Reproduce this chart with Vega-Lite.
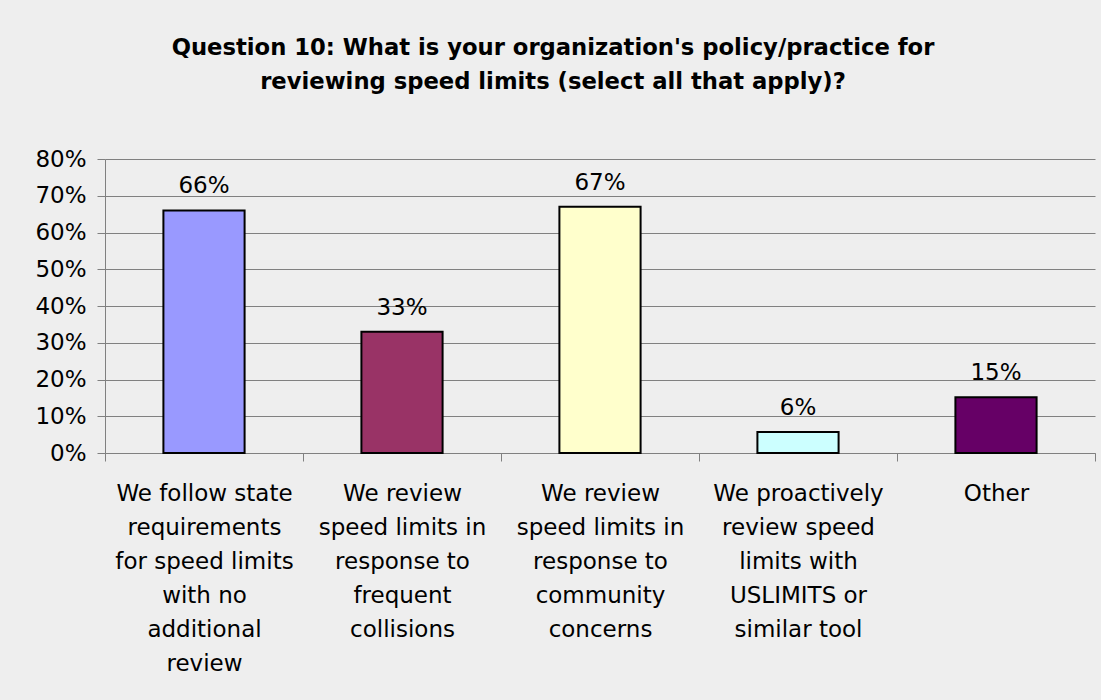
{
  "$schema": "https://vega.github.io/schema/vega-lite/v6.json",
  "width": 990,
  "height": 294,
  "autosize": "none",
  "padding": {"left": 105, "top": 159, "right": 6, "bottom": 247},
  "background": "#eeeeee",
  "title": {
    "text": ["Question 10: What is your organization's policy/practice for", "reviewing speed limits (select all that apply)?"],
    "font": "DejaVu Sans",
    "fontSize": 22.7,
    "fontWeight": "bold",
    "lineHeight": 34,
    "color": "#000000",
    "anchor": "middle",
    "frame": "group",
    "dx": -47,
    "offset": 54
  },
  "config": {
    "view": {"stroke": null},
    "axis": {"labelFont": "DejaVu Sans", "labelFontSize": 23, "labelColor": "#000000"}
  },
  "data": {
    "values": [
      {"order": 1, "category": "We follow state|requirements|for speed limits|with no|additional|review", "value": 0.66},
      {"order": 2, "category": "We review|speed limits in|response to|frequent|collisions", "value": 0.33},
      {"order": 3, "category": "We review |speed limits in |response to |community|concerns", "value": 0.67},
      {"order": 4, "category": "We proactively|review speed|limits with|USLIMITS or|similar tool", "value": 0.057},
      {"order": 5, "category": "Other", "value": 0.152}
    ]
  },
  "encoding": {
    "x": {
      "field": "category",
      "type": "nominal",
      "sort": {"field": "order"},
      "scale": {"paddingInner": 0, "paddingOuter": 0},
      "axis": {
        "title": null,
        "labelAngle": 0,
        "labelExpr": "split(datum.label, '|')",
        "labelLineHeight": 34,
        "labelPadding": 21,
        "labelBaseline": "top",
        "tickBand": "extent",
        "tickSize": 8,
        "tickColor": "#808080",
        "domainColor": "#808080",
        "labelLimit": 0
      }
    },
    "y": {
      "field": "value",
      "type": "quantitative",
      "scale": {"domain": [0, 0.8], "nice": false},
      "axis": {
        "title": null,
        "values": [0, 0.1, 0.2, 0.3, 0.4, 0.5, 0.6, 0.7, 0.8],
        "format": ".0%",
        "tickSize": 8,
        "labelPadding": 11,
        "tickColor": "#808080",
        "domainColor": "#808080",
        "gridColor": "#808080",
        "gridOpacity": 1,
        "grid": true
      }
    }
  },
  "layer": [
    {
      "mark": {"type": "bar", "width": {"band": 0.41}, "stroke": "#000000", "strokeWidth": 2},
      "encoding": {
        "color": {
          "field": "category",
          "type": "nominal",
          "sort": {"field": "order"},
          "legend": null,
          "scale": {"range": ["#9999ff", "#993366", "#ffffcc", "#ccffff", "#660066"]}
        }
      }
    },
    {
      "mark": {"type": "text", "font": "DejaVu Sans", "fontSize": 23, "color": "#000000", "baseline": "alphabetic", "dy": -17},
      "encoding": {
        "text": {"field": "value", "type": "quantitative", "format": ".0%"}
      }
    }
  ]
}
